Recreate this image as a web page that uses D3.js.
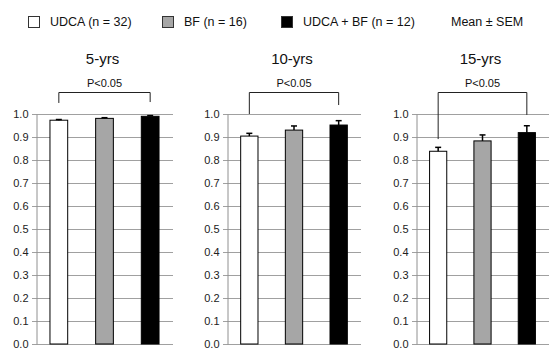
<!DOCTYPE html>
<html>
<head>
<meta charset="utf-8">
<script src="https://cdn.jsdelivr.net/npm/d3@7"></script>
<style>
  body { margin: 0; background: #fff; }
  svg { font-family: "Liberation Sans", Arial, sans-serif; }
</style>
</head>
<body>
<div id="chart"></div>
<script>
// groups and panels
const groups = ["UDCA (n = 32)", "BF (n = 16)", "UDCA + BF (n = 12)"];
const groupColors = ["#ffffff", "#a6a6a6", "#000000"];
const periods = ["5-yrs", "10-yrs", "15-yrs"];

// mean values per period (rows) and group (columns)
const means = [
  [0.973, 0.981, 0.990],
  [0.904, 0.930, 0.952],
  [0.838, 0.883, 0.919]
];
const sems = [
  [0.003, 0.003, 0.003],
  [0.012, 0.018, 0.019],
  [0.017, 0.026, 0.030]
];

// significance bracket: [left leg end, right leg end, top] in axis units
const brackets = [
  [1.048, 1.052, 1.096],
  [1.000, 1.039, 1.096],
  [0.891, 0.996, 1.096]
];
const pLabel = "P<0.05";
const yTicks = [0, 0.1, 0.2, 0.3, 0.4, 0.5, 0.6, 0.7, 0.8, 0.9, 1.0];

const width = 553, height = 350;
const svg = d3.select("#chart").append("svg")
  .attr("width", width)
  .attr("height", height);

// legend
const legendX = [28, 162, 281];
groups.forEach(function(g, i) {
  svg.append("rect")
    .attr("x", legendX[i] + 0.5).attr("y", 16.5)
    .attr("width", 11).attr("height", 11)
    .attr("fill", groupColors[i])
    .attr("stroke", "#333").attr("stroke-width", 1);
  svg.append("text")
    .attr("x", legendX[i] + 22).attr("y", 26)
    .attr("font-size", 12.5).attr("fill", "#111")
    .text(g);
});
svg.append("text")
  .attr("x", 451).attr("y", 26)
  .attr("font-size", 12.5).attr("fill", "#111")
  .text("Mean \u00b1 SEM");

// panel layout
const panelLeft = [36, 227, 416];
const panelRight = [173, 361, 549];

const y = d3.scaleLinear().domain([0, 1]).range([344, 114]);

periods.forEach(function(period, p) {
  const g = svg.append("g");
  const x = d3.scaleBand()
    .domain(groups)
    .range([panelLeft[p], panelRight[p]])
    .paddingInner(0.59)
    .paddingOuter(0.295);

  // gridlines
  g.selectAll(".grid")
    .data(yTicks)
    .enter().append("line")
    .attr("x1", panelLeft[p] - 4).attr("x2", panelRight[p])
    .attr("y1", function(d) { return Math.round(y(d)) + 0.5; })
    .attr("y2", function(d) { return Math.round(y(d)) + 0.5; })
    .attr("stroke", "#a0a0a0").attr("stroke-width", 1);

  // y axis
  const axis = g.append("g")
    .attr("transform", "translate(" + (panelLeft[p] + 0.5) + ",0)")
    .call(d3.axisLeft(y).tickValues(yTicks).tickFormat(d3.format(".1f")).tickSize(0).tickPadding(8));
  axis.select(".domain").attr("stroke", "#909090");
  axis.selectAll("text")
    .attr("font-size", 11)
    .attr("font-family", "'Liberation Sans', Arial, sans-serif")
    .attr("fill", "#222");

  // bars
  g.selectAll(".bar")
    .data(groups)
    .enter().append("rect")
    .attr("x", function(d) { return x(d) + 0.5; })
    .attr("y", function(d, i) { return y(means[p][i]); })
    .attr("width", x.bandwidth() - 1)
    .attr("height", function(d, i) { return y(0) - y(means[p][i]); })
    .attr("fill", function(d, i) { return groupColors[i]; })
    .attr("stroke", "#000").attr("stroke-width", 1);

  // error bars
  groups.forEach(function(d, i) {
    const cx = x(d) + x.bandwidth() / 2;
    const top = y(means[p][i] + sems[p][i]);
    g.append("line")
      .attr("x1", cx).attr("x2", cx)
      .attr("y1", y(means[p][i])).attr("y2", top)
      .attr("stroke", "#000").attr("stroke-width", 1.5);
    g.append("line")
      .attr("x1", cx - 3).attr("x2", cx + 3)
      .attr("y1", top).attr("y2", top)
      .attr("stroke", "#000").attr("stroke-width", 1.5);
  });

  // title
  const mid = (panelLeft[p] + panelRight[p]) / 2 - 2;
  g.append("text")
    .attr("x", mid).attr("y", 64)
    .attr("text-anchor", "middle")
    .attr("font-size", 15).attr("fill", "#111")
    .text(period);

  // significance bracket
  const bx1 = x(groups[0]) + x.bandwidth() / 2;
  const bx2 = x(groups[2]) + x.bandwidth() / 2;
  const b = brackets[p];
  g.append("path")
    .attr("d", "M" + bx1 + "," + y(b[0]) + "V" + (Math.round(y(b[2])) + 0.5) +
               "H" + bx2 + "V" + y(b[1]))
    .attr("fill", "none")
    .attr("stroke", "#222").attr("stroke-width", 1);
  g.append("text")
    .attr("x", (bx1 + bx2) / 2).attr("y", 87)
    .attr("text-anchor", "middle")
    .attr("font-size", 11).attr("fill", "#111")
    .text(pLabel);
});
</script>
</body>
</html>
